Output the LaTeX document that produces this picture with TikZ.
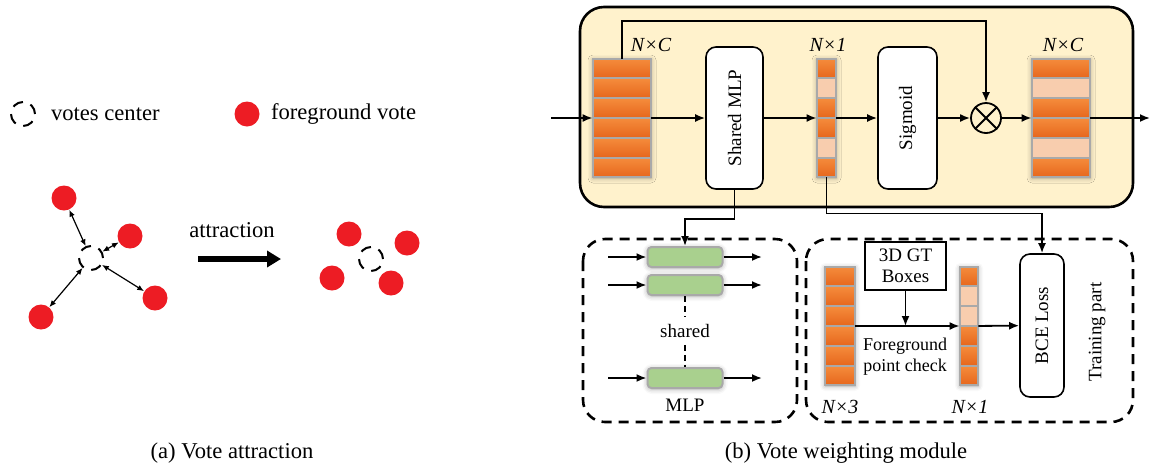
\documentclass[tikz,border=0pt]{standalone}
\usepackage{fontspec}
\setmainfont{Liberation Serif}
\usepackage{graphicx}
\usetikzlibrary{arrows.meta,calc,shadows.blur}

\definecolor{votered}{HTML}{ED1C24}
\definecolor{panelyellow}{HTML}{FFF2CC}
\definecolor{cellhi}{HTML}{F58C3C}
\definecolor{celllo}{HTML}{E6661C}
\definecolor{cellpale}{HTML}{F8CDAE}
\definecolor{cellrim}{HTML}{A9A9A9}
\definecolor{mlpgreen}{HTML}{A9D08E}

\tikzset{
  txtL/.style={font=\fontsize{11.3}{13.5}\selectfont},
  txtM/.style={font=\fontsize{9.5}{10.5}\selectfont},
  txtS/.style={font=\fontsize{9}{10.5}\selectfont},
  dimlbl/.style={font=\fontsize{10}{12}\selectfont\itshape},
  vc/.style={circle, draw, line width=1pt, dash pattern=on 5.4pt off 4pt,
    minimum size=12pt, inner sep=0pt},
  vote/.style={circle, fill=votered, minimum size=12.5pt, inner sep=0pt},
  dblarr/.style={{Latex[length=3.4pt,width=2.8pt]}-{Latex[length=3.4pt,width=2.8pt]}, line width=0.6pt},
  bigarr/.style={-{Triangle[length=7pt,width=8pt]}, line width=2.6pt},
  arr/.style={-{Latex[length=5pt,width=4pt]}, line width=0.9pt},
  line/.style={line width=0.9pt},
  panel/.style={draw, line width=1.3pt, fill=panelyellow, rounded corners=12pt},
  dbox/.style={draw, line width=1.3pt, dash pattern=on 5pt off 3.5pt, rounded corners=11pt},
  soft/.style={blur shadow={shadow xshift=0pt, shadow yshift=-0.5pt,
    shadow blur radius=2.5pt, shadow opacity=35}},
  stk/.style={rectangle, inner sep=0pt, minimum height=59pt, soft},
  cellbase/.style={draw=cellrim, line width=1pt},
  cello/.style={top color=cellhi, bottom color=celllo},
  cellp/.style={fill=cellpale},
  opbox/.style={draw, line width=0.8pt, fill=white, rounded corners=5pt,
    inner sep=0pt, txtM},
  bar/.style={draw=cellrim, line width=1pt, fill=mlpgreen, rounded corners=2pt,
    minimum width=37.5pt, minimum height=10pt, inner sep=0pt, soft},
}

% fill a stack node with six coloured cells (o = strong, p = pale)
\newcommand\fillstack[2]{%
  \foreach \k [count=\i from 0] in {#2}{
    \draw[cellbase, cell\k]
      ($(#1.north west)!{\i/6}!(#1.south west)$) rectangle
      ($(#1.north east)!{(\i+1)/6}!(#1.south east)$);
  }}

\begin{document}
\begin{tikzpicture}[x=0.5pt,y=-0.5pt]
\useasboundingbox (0,0) rectangle (1150,467);

% ---------------- (a) vote attraction ----------------
\node[vc] (lgc) at (23,114) {};
\node[txtL, anchor=west] (lgct) at (44,114) {votes center};
\node[vote] (lgv) at (247,114) {};
\node[txtL, anchor=west] (lgvt) at (264,114) {foreground vote};

\node[vc] (c1) at (91,258) {};
\node[vote] (v1) at (64,198) {};
\node[vote] (v2) at (130,236) {};
\node[vote] (v3) at (155,298) {};
\node[vote] (v4) at (41,317) {};
\foreach \v in {v1,v2,v3,v4} \draw[dblarr] (c1) -- (\v);

\coordinate (at0) at (198,259);
\coordinate (at1) at (281,259);
\draw[bigarr] (at0) -- (at1);
\node[txtL] (attr) at (232,230) {attraction};

\node[vc] (c2) at (371,259) {};
\node[vote] (w1) at (349,234) {};
\node[vote] (w2) at (407,243) {};
\node[vote] (w3) at (332,278) {};
\node[vote] (w4) at (391,283) {};

\node[txtL] (capa) at (232,453) {(a) Vote attraction};

% ---------------- (b) vote weighting module ----------------
\draw[panel] (580,7) rectangle (1133,207);

\node[stk, minimum width=29pt] (s1) at (622,118) {};
\fillstack{s1}{o,o,o,o,o,o}
\node[stk, minimum width=9.5pt] (s2) at (826.5,118) {};
\fillstack{s2}{o,p,o,o,p,o}
\node[stk, minimum width=29pt] (s3) at (1061,118) {};
\fillstack{s3}{o,p,o,o,p,o}

\node[dimlbl] (l1) at (651,45) {N×C};
\node[dimlbl] (l2) at (828,45) {N×1};
\node[dimlbl] (l3) at (1063,45) {N×C};

\node[opbox, minimum width=28.5pt, minimum height=71pt] (mlp) at (734.5,118)
  {\rotatebox{90}{Shared MLP}};
\node[opbox, minimum width=29.5pt, minimum height=71pt] (sig) at (907.5,118)
  {\rotatebox{90}{Sigmoid}};
\node[circle, draw, line width=0.9pt, minimum size=15pt, inner sep=0pt] (mul) at (986,118) {};
\draw[line] (mul.north west) -- (mul.south east);
\draw[line] (mul.north east) -- (mul.south west);

\coordinate (in) at (551,118);
\coordinate (out) at (1150,118);
\coordinate (fb) at (700,21);
\draw[arr] (in) -- (s1);
\draw[arr] (s1) -- (mlp);
\draw[arr] (mlp) -- (s2);
\draw[arr] (s2) -- (sig);
\draw[arr] (sig) -- (mul);
\draw[arr] (mul) -- (s3);
\draw[arr] (s3) -- (out);
\draw[arr] (s1.north) -- (s1.north |- fb) -| (mul.north);

% shared MLP detail
\draw[dbox] (583,239) rectangle (797,422);
\node[bar] (b1) at (685,257) {};
\node[bar] (b2) at (685,285) {};
\node[bar] (b3) at (685,378) {};
\foreach \b in {b1,b2,b3}{
  \coordinate (\b i) at (608,0 |- \b);
  \coordinate (\b o) at (762,0 |- \b);
  \draw[arr] (\b i) -- (\b);
  \draw[arr] (\b) -- (\b o);
}
\node[txtM] (shr) at (685,331) {shared};
\draw[line width=0.7pt, dash pattern=on 3pt off 2pt] (b2) -- (shr) -- (b3);
\node[txtM] (mlpl) at (685,405) {MLP};
\draw[arr] (mlp.south) -- ++(0,29) -| (b1.north);

% training part
\draw[dbox] (806,239) rectangle (1133,422);
\node[stk, minimum width=15pt] (s4) at (840,326) {};
\fillstack{s4}{o,o,o,o,o,o}
\node[stk, minimum width=9pt] (s5) at (969,326) {};
\fillstack{s5}{o,p,p,o,o,o}
\node[dimlbl] (l4) at (840,407) {N×3};
\node[dimlbl] (l5) at (970,407) {N×1};

\node[draw, line width=0.8pt, txtM, align=center, inner sep=0pt,
  minimum width=40.5pt, minimum height=24pt] (gt) at (905.5,266) {3D GT\\Boxes};
\coordinate (chk) at (gt.south |- s4);
\draw[arr] (gt) -- (chk);
\draw[arr] (s4) -- (s5);
\node[txtS, align=center] (fpc) at (905,357) {Foreground\\point check};

\node[opbox, minimum width=22pt, minimum height=71.5pt] (bce) at (1042,325.5)
  {\rotatebox{90}{BCE Loss}};
\draw[arr] (s5) -- (bce);
\draw[arr] (s2.south) -- ++(0,36) -| (bce.north);
\node[txtM, rotate=90] (train) at (1097,332) {Training part};

\node[txtL] (capb) at (846,453) {(b) Vote weighting module};
\end{tikzpicture}
\end{document}
